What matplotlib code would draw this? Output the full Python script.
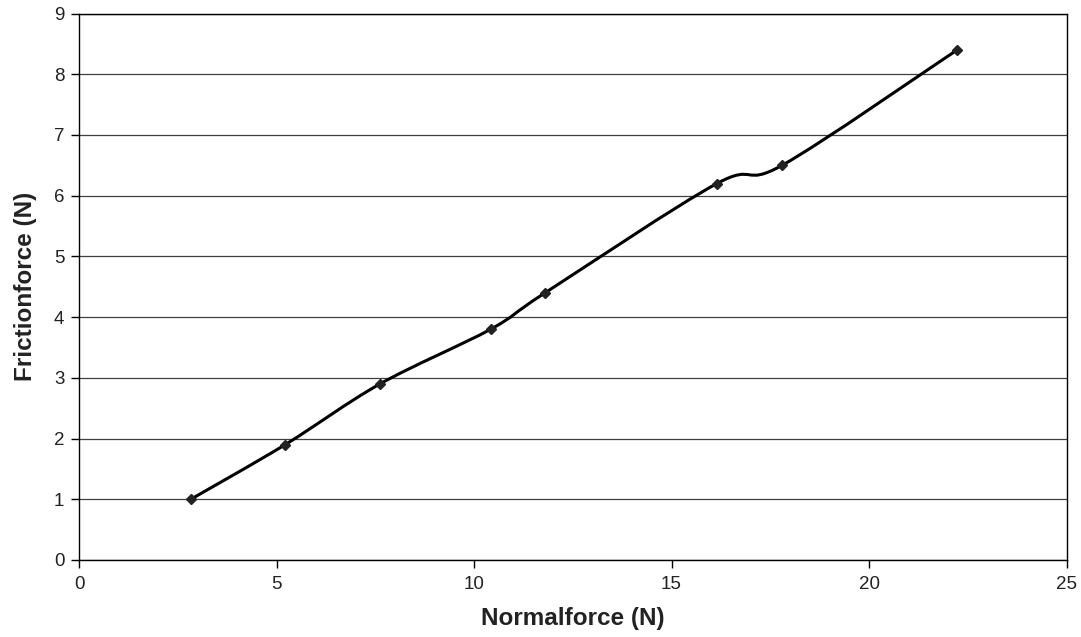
import numpy as np
import matplotlib
matplotlib.use("Agg")
import matplotlib.pyplot as plt
from matplotlib.path import Path
from matplotlib.patches import PathPatch

plt.rcParams['font.family'] = ['Liberation Sans', 'DejaVu Sans']

# measured normal force vs friction force
normal_force = [2.83, 5.22, 7.62, 10.42, 11.8, 16.15, 17.8, 22.23]
friction_force = [1.0, 1.9, 2.9, 3.8, 4.4, 6.2, 6.5, 8.4]


def smooth_path(xs, ys):
    """Bezier smoothing through the points (spreadsheet-style, tension 1/6)."""
    pts = np.column_stack([xs, ys])
    n = len(pts)
    verts = [pts[0]]
    codes = [Path.MOVETO]
    for i in range(n - 1):
        p0 = pts[i - 1] if i > 0 else pts[i]
        p1 = pts[i]
        p2 = pts[i + 1]
        p3 = pts[i + 2] if i + 2 < n else pts[i + 1]
        c1 = p1 + (p2 - p0) / 6.0
        c2 = p2 - (p3 - p1) / 6.0
        verts += [c1, c2, p2]
        codes += [Path.CURVE4] * 3
    return Path(verts, codes)


fig = plt.figure(figsize=(10.81, 6.37), dpi=100)
ax = fig.add_axes([0.0731, 0.1209, 0.9135, 0.8579])

ax.set_xlim(0, 25)
ax.set_ylim(0, 9)
ax.set_xticks(np.arange(0, 26, 5))
ax.set_yticks(np.arange(0, 10, 1))
ax.yaxis.grid(True, color='#404040', linewidth=0.9)
ax.set_axisbelow(True)

ax.add_patch(PathPatch(smooth_path(normal_force, friction_force),
                       facecolor='none', edgecolor='black', linewidth=2.2,
                       zorder=3))
ax.plot(normal_force, friction_force, linestyle='none', marker='D',
        markersize=5.5, color='#222222', zorder=4)

for side in ax.spines.values():
    side.set_linewidth(1.0)
ax.tick_params(direction='out', length=5.5, width=1, labelsize=13.5,
               color='black', labelcolor='#222222')
ax.tick_params(axis='x', pad=6)
ax.tick_params(axis='y', pad=5)

ax.set_xlabel('Normalforce (N)', fontsize=17.5, fontweight='bold',
              color='#222222', labelpad=10)
ax.set_ylabel('Frictionforce (N)', fontsize=17.5, fontweight='bold',
              color='#222222', labelpad=12)

fig.savefig('out.png', dpi=100)
